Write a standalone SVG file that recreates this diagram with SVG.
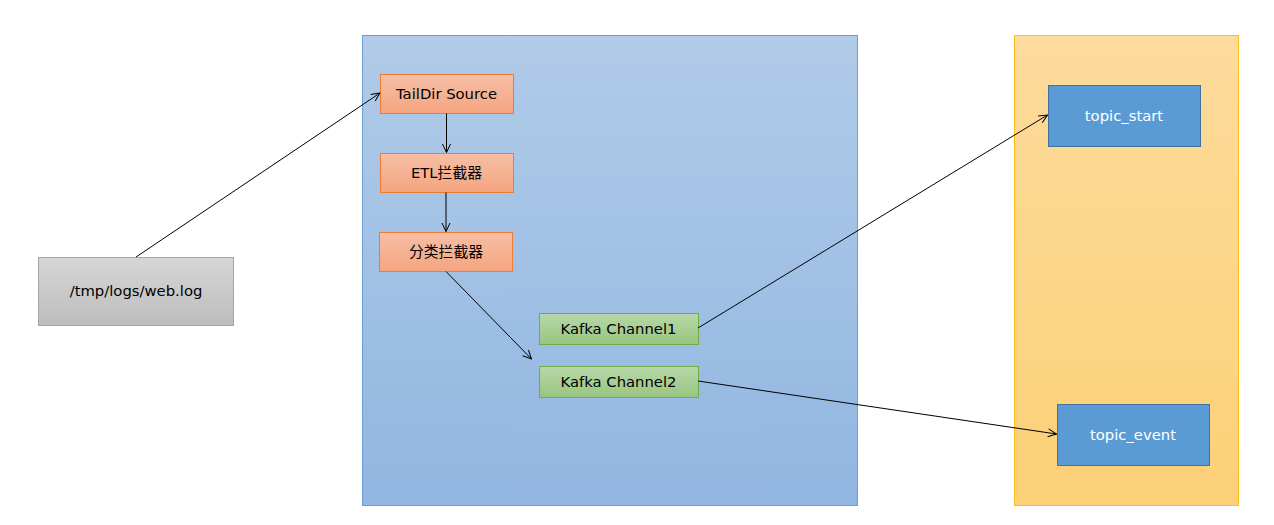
<svg xmlns="http://www.w3.org/2000/svg" width="1274" height="525" viewBox="0 0 1274 525">
<defs>
<linearGradient id="gBlue" x1="0" y1="0" x2="0" y2="1"><stop offset="0" stop-color="#b1cbe8"/><stop offset="1" stop-color="#91b6e1"/></linearGradient>
<linearGradient id="gYel" x1="0" y1="0" x2="0" y2="1"><stop offset="0" stop-color="#fddb9c"/><stop offset="1" stop-color="#fcd077"/></linearGradient>
<linearGradient id="gOr" x1="0" y1="0" x2="0" y2="1"><stop offset="0" stop-color="#f7bfa6"/><stop offset="1" stop-color="#f4a480"/></linearGradient>
<linearGradient id="gGr" x1="0" y1="0" x2="0" y2="1"><stop offset="0" stop-color="#b7d8aa"/><stop offset="1" stop-color="#98c580"/></linearGradient>
<linearGradient id="gGy" x1="0" y1="0" x2="0" y2="1"><stop offset="0" stop-color="#d6d6d6"/><stop offset="1" stop-color="#bdbdbd"/></linearGradient>
<marker id="arr" viewBox="0 0 10 10" refX="9.5" refY="5" markerWidth="10" markerHeight="10" markerUnits="userSpaceOnUse" orient="auto">
<path d="M1,1 L9.5,5 L1,9" fill="none" stroke="#000" stroke-width="1"/>
</marker>
<style>
text{font-family:"DejaVu Sans","Noto Sans CJK SC",sans-serif;font-size:14.8px;text-anchor:middle;dominant-baseline:central;fill:#000}
.or{fill:url(#gOr);stroke:#ed7d31;stroke-width:1}
.gr{fill:url(#gGr);stroke:#70ad47;stroke-width:1}
.tp{fill:#5b9bd5;stroke:#41719c;stroke-width:1}
.tp+text{fill:#fff}
.c{fill:none;stroke:#000;stroke-width:1;marker-end:url(#arr)}
</style>
</defs>
<rect width="1274" height="525" fill="#fff"/>
<g id="flume">
<rect x="362.5" y="35.5" width="495" height="470" fill="url(#gBlue)" stroke="#6a9fd6"/>
</g>
<g id="kafka">
<rect x="1014.5" y="35.5" width="224" height="470" fill="url(#gYel)" stroke="#fcbf18"/>
</g>
<g id="weblog">
<rect x="38.5" y="257.5" width="195" height="68" fill="url(#gGy)" stroke="#a5a5a5"/>
<text x="136" y="290.5">/tmp/logs/web.log</text>
</g>
<g id="taildir">
<rect class="or" x="380.5" y="74.5" width="133" height="39"/>
<text x="446.5" y="93">TailDir Source</text>
</g>
<g id="etl">
<rect class="or" x="380.5" y="153.5" width="133" height="39"/>
<text x="446.5" y="172">ETL拦截器</text>
</g>
<g id="classify">
<rect class="or" x="379.5" y="232.5" width="133" height="39"/>
<text x="446" y="251">分类拦截器</text>
</g>
<g id="kc1">
<rect class="gr" x="539.5" y="313.5" width="159" height="31"/>
<text x="618.5" y="328">Kafka Channel1</text>
</g>
<g id="kc2">
<rect class="gr" x="539.5" y="366.5" width="159" height="31"/>
<text x="618.5" y="381">Kafka Channel2</text>
</g>
<g id="topic_start">
<rect class="tp" x="1048.5" y="85.5" width="152" height="61"/>
<text x="1124" y="115">topic_start</text>
</g>
<g id="topic_event">
<rect class="tp" x="1057.5" y="404.5" width="152" height="61"/>
<text x="1133" y="434">topic_event</text>
</g>
<g id="connectors">
<path class="c" d="M136,257 L380,93"/>
<path class="c" d="M446.5,113.5 L446.5,152.5"/>
<path class="c" d="M446,192.5 L446,231.5"/>
<path class="c" d="M446,271.5 L531.5,359"/>
<path class="c" d="M698,328 L1047.5,115"/>
<path class="c" d="M698,381 L1056.5,434"/>
</g>
</svg>
